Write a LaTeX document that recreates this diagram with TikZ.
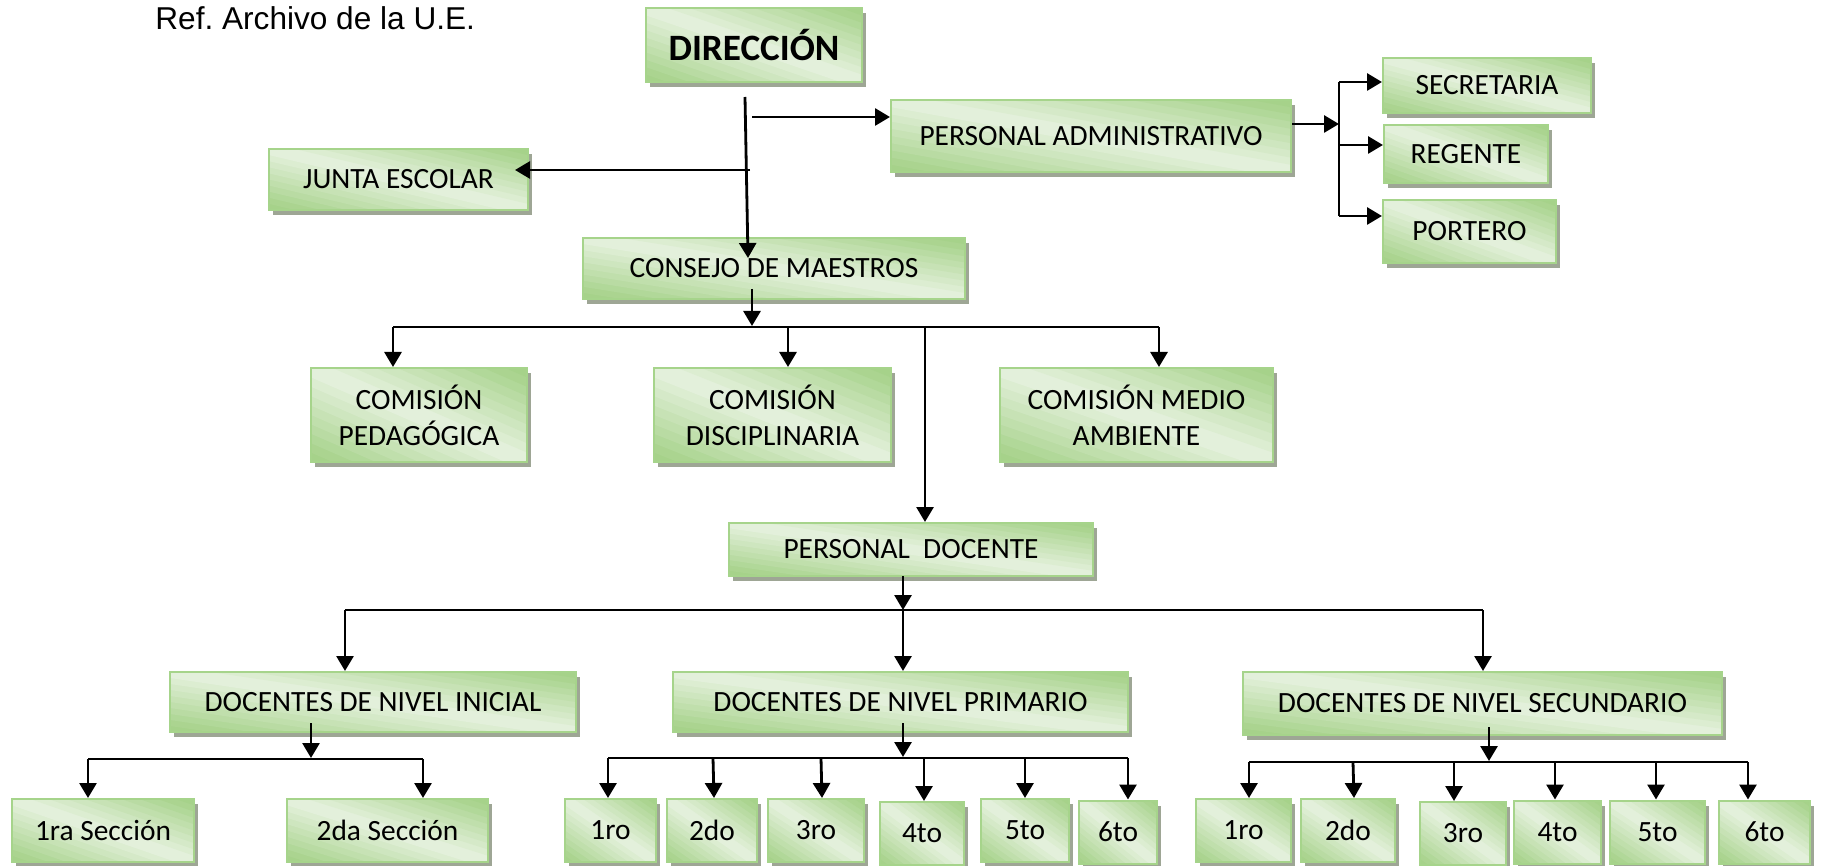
\documentclass[tikz,border=0pt]{standalone}
\usepackage{fontspec}
\setmainfont{Carlito}
\newfontfamily\reffont{Liberation Sans}
\usetikzlibrary{arrows.meta,calc}
\definecolor{gA}{HTML}{A6D28A}
\definecolor{gB}{HTML}{E6F2DF}
\definecolor{gE}{HTML}{A6D48B}
\definecolor{shd}{HTML}{9EA695}
\frenchspacing
\begin{document}
\begin{tikzpicture}[x=0.5pt,y=-0.5pt,
  grad/.style={path picture={%
      \foreach \k in {0,...,19}{%
        \pgfmathsetmacro{\ca}{-1+\k/10}%
        \pgfmathsetmacro{\cb}{\ca+0.12}%
        \pgfmathtruncatemacro{\pc}{min(100,abs(\ca+0.05)*110)}%
        \fill[gA!\pc!gB] let \p1=(path picture bounding box.north west),
            \p2=(path picture bounding box.south east) in
          ({\x1+(\ca-1)*(\x2-\x1)},{\y1-(\y2-\y1)}) --
          ({\x1+(\ca+2)*(\x2-\x1)},{\y1+2*(\y2-\y1)}) --
          ({\x1+(\cb+2)*(\x2-\x1)},{\y1+2*(\y2-\y1)}) --
          ({\x1+(\cb-1)*(\x2-\x1)},{\y1-(\y2-\y1)}) -- cycle;
      }}},
  box/.style={draw=gE, line width=1pt, inner sep=0pt, align=center,
    font=\fontsize{14.7}{18}\selectfont,
    preaction={fill=shd, transform canvas={xshift=2pt, yshift=-2.5pt}},
    fill=gB, grad},
  conn/.style={line width=1.4pt},
  arr/.style={conn, -{Triangle[length=7.5pt,width=8.5pt]}}]
\useasboundingbox (0,0) rectangle (1821,866);

\node[anchor=base west, inner sep=0pt, font=\reffont\fontsize{15.8}{18}\selectfont] (ref) at (155,30) {Ref. Archivo de la U.E.};

% top level
\node[box, minimum width=108pt, minimum height=37pt] (DIR) at (754,45) {\fontsize{18.6}{20}\selectfont\bfseries DIRECCIÓN};
\node[box, minimum width=200pt, minimum height=36pt] (PA) at (1091,136) {PERSONAL ADMINISTRATIVO};
\node[box, minimum width=104pt, minimum height=27.5pt] (SEC) at (1487,85.5) {SECRETARIA};
\node[box, minimum width=82pt, minimum height=29pt] (REG) at (1466,154) {REGENTE};
\node[box, minimum width=86.5pt, minimum height=31.5pt] (POR) at (1469.5,231.5) {PORTERO};
\node[box, minimum width=129.5pt, minimum height=30.5pt] (JUN) at (398.5,179.5) {JUNTA ESCOLAR};
\node[box, minimum width=191pt, minimum height=30.5pt] (CON) at (774,268.5) {CONSEJO DE MAESTROS};

% comisiones
\node[box, minimum width=108pt, minimum height=47pt] (CP) at (419,415) {COMISIÓN\\PEDAGÓGICA};
\node[box, minimum width=118.5pt, minimum height=47pt] (CD) at (772.5,415) {COMISIÓN\\DISCIPLINARIA};
\node[box, minimum width=136.5pt, minimum height=47pt] (CM) at (1136.5,415) {COMISIÓN MEDIO\\AMBIENTE};

\node[box, minimum width=182pt, minimum height=26.5pt] (PD) at (911,549.5) {PERSONAL\ \ DOCENTE};

% niveles
\node[box, minimum width=203pt, minimum height=30pt] (DI) at (373,702) {DOCENTES DE NIVEL INICIAL};
\node[box, minimum width=227.5pt, minimum height=30pt] (DP) at (900.5,702) {DOCENTES DE NIVEL PRIMARIO};
\node[box, minimum width=239.5pt, minimum height=31.5pt] (DS) at (1482.5,703.5) {DOCENTES DE NIVEL SECUNDARIO};

% bottom row
\node[box, minimum width=91pt, minimum height=31.5pt] (I1) at (103,830.5) {1ra Sección};
\node[box, minimum width=100.5pt, minimum height=31.5pt] (I2) at (387.5,830.5) {2da Sección};

\node[box, minimum width=45.5pt, minimum height=31.5pt] (P1) at (610.5,830.5) {1ro};
\node[box, minimum width=45pt, minimum height=31.5pt] (P2) at (712,830.5) {2do};
\node[box, minimum width=48pt, minimum height=31.5pt] (P3) at (816,830.5) {3ro};
\node[box, minimum width=42pt, minimum height=31.5pt] (P4) at (922,833.5) {4to};
\node[box, minimum width=44pt, minimum height=31.5pt] (P5) at (1025,830.5) {5to};
\node[box, minimum width=39pt, minimum height=31.5pt] (P6) at (1118,832) {6to};

\node[box, minimum width=47.5pt, minimum height=31.5pt] (S1) at (1243.5,830.5) {1ro};
\node[box, minimum width=47pt, minimum height=31.5pt] (S2) at (1348,830.5) {2do};
\node[box, minimum width=43pt, minimum height=31.5pt] (S3) at (1463,833.5) {3ro};
\node[box, minimum width=43.5pt, minimum height=31.5pt] (S4) at (1557.5,832) {4to};
\node[box, minimum width=47.5pt, minimum height=31.5pt] (S5) at (1657.5,832) {5to};
\node[box, minimum width=45.5pt, minimum height=31.5pt] (S6) at (1764.5,832) {6to};

% ---- connectors: top
\coordinate (d0) at (745,97);
\coordinate (d1) at (748,258);
\draw[arr] (d0) -- (d1);
\coordinate (pa0) at (752,117);
\draw[arr] (pa0) -- (pa0 -| PA.west);
\coordinate (ju0) at (750,170);
\draw[arr, shorten >=-7pt] (ju0) -- (ju0 -| JUN.east);

% admin branch
\coordinate (bar) at (1339,124);
\coordinate (b1) at (1339,82);
\coordinate (b2) at (1339,145);
\coordinate (b3) at (1339,216);
\draw[arr] (bar -| PA.east) -- (bar);
\draw[conn] (b1) -- (b3);
\draw[arr] (b1) -- (b1 -| SEC.west);
\draw[arr] (b2) -- (b2 -| REG.west);
\draw[arr] (b3) -- (b3 -| POR.west);

% consejo
\coordinate (c0) at (752,289);
\coordinate (cl) at (393,327);
\coordinate (cr) at (1159,327);
\coordinate (cd) at (788,327);
\coordinate (cv) at (925,327);
\draw[arr] (c0) -- (752,326);
\draw[conn] (cl) -- (cr);
\draw[arr] (cl) -- (cl |- CP.north);
\draw[arr] (cd) -- (cd |- CD.north);
\draw[arr] (cr) -- (cr |- CM.north);
\draw[arr] (cv) -- (cv |- PD.north);

% personal docente
\coordinate (p0) at (903,576);
\coordinate (pl) at (345,610);
\coordinate (pm) at (903,610);
\coordinate (pr) at (1483,610);
\draw[arr] (p0) -- (pm);
\draw[conn] (pl) -- (pr);
\draw[arr] (pl) -- (pl |- DI.north);
\draw[arr] (pm) -- (pm |- DP.north);
\draw[arr] (pr) -- (pr |- DS.north);

% inicial
\coordinate (i0) at (311,723);
\coordinate (il) at (88,759);
\coordinate (ir) at (423,759);
\draw[arr] (i0) -- (311,758);
\draw[conn] (il) -- (ir);
\draw[arr] (il) -- (il |- I1.north);
\draw[arr] (ir) -- (ir |- I2.north);

% primario
\coordinate (q0) at (903,723);
\coordinate (q1) at (608,758);
\coordinate (q2) at (713,758);
\coordinate (q3) at (821,758);
\coordinate (q4) at (924,758);
\coordinate (q5) at (1025,758);
\coordinate (q6) at (1128,758);
\draw[arr] (q0) -- (903,757);
\draw[conn] (q1) -- (q6);
\draw[arr] (q1) -- (q1 |- P1.north);
\draw[arr] (q2) -- ([xshift=0.5pt]q2 |- P2.north);
\draw[arr] (q3) -- ([xshift=0.5pt]q3 |- P3.north);
\draw[arr] (q4) -- (q4 |- P4.north);
\draw[arr] (q5) -- (q5 |- P5.north);
\draw[arr] (q6) -- (q6 |- P6.north);

% secundario
\coordinate (s0) at (1489,727);
\coordinate (s1) at (1249,762);
\coordinate (s2) at (1353,762);
\coordinate (s3) at (1454,762);
\coordinate (s4) at (1555,762);
\coordinate (s5) at (1656,762);
\coordinate (s6) at (1748,762);
\draw[arr] (s0) -- (1489,761);
\draw[conn] (s1) -- (s6);
\draw[arr] (s1) -- (s1 |- S1.north);
\draw[arr] (s2) -- ([xshift=0.5pt]s2 |- S2.north);
\draw[arr] (s3) -- (s3 |- S3.north);
\draw[arr] (s4) -- (s4 |- S4.north);
\draw[arr] (s5) -- (s5 |- S5.north);
\draw[arr] (s6) -- (s6 |- S6.north);
\end{tikzpicture}
\end{document}
